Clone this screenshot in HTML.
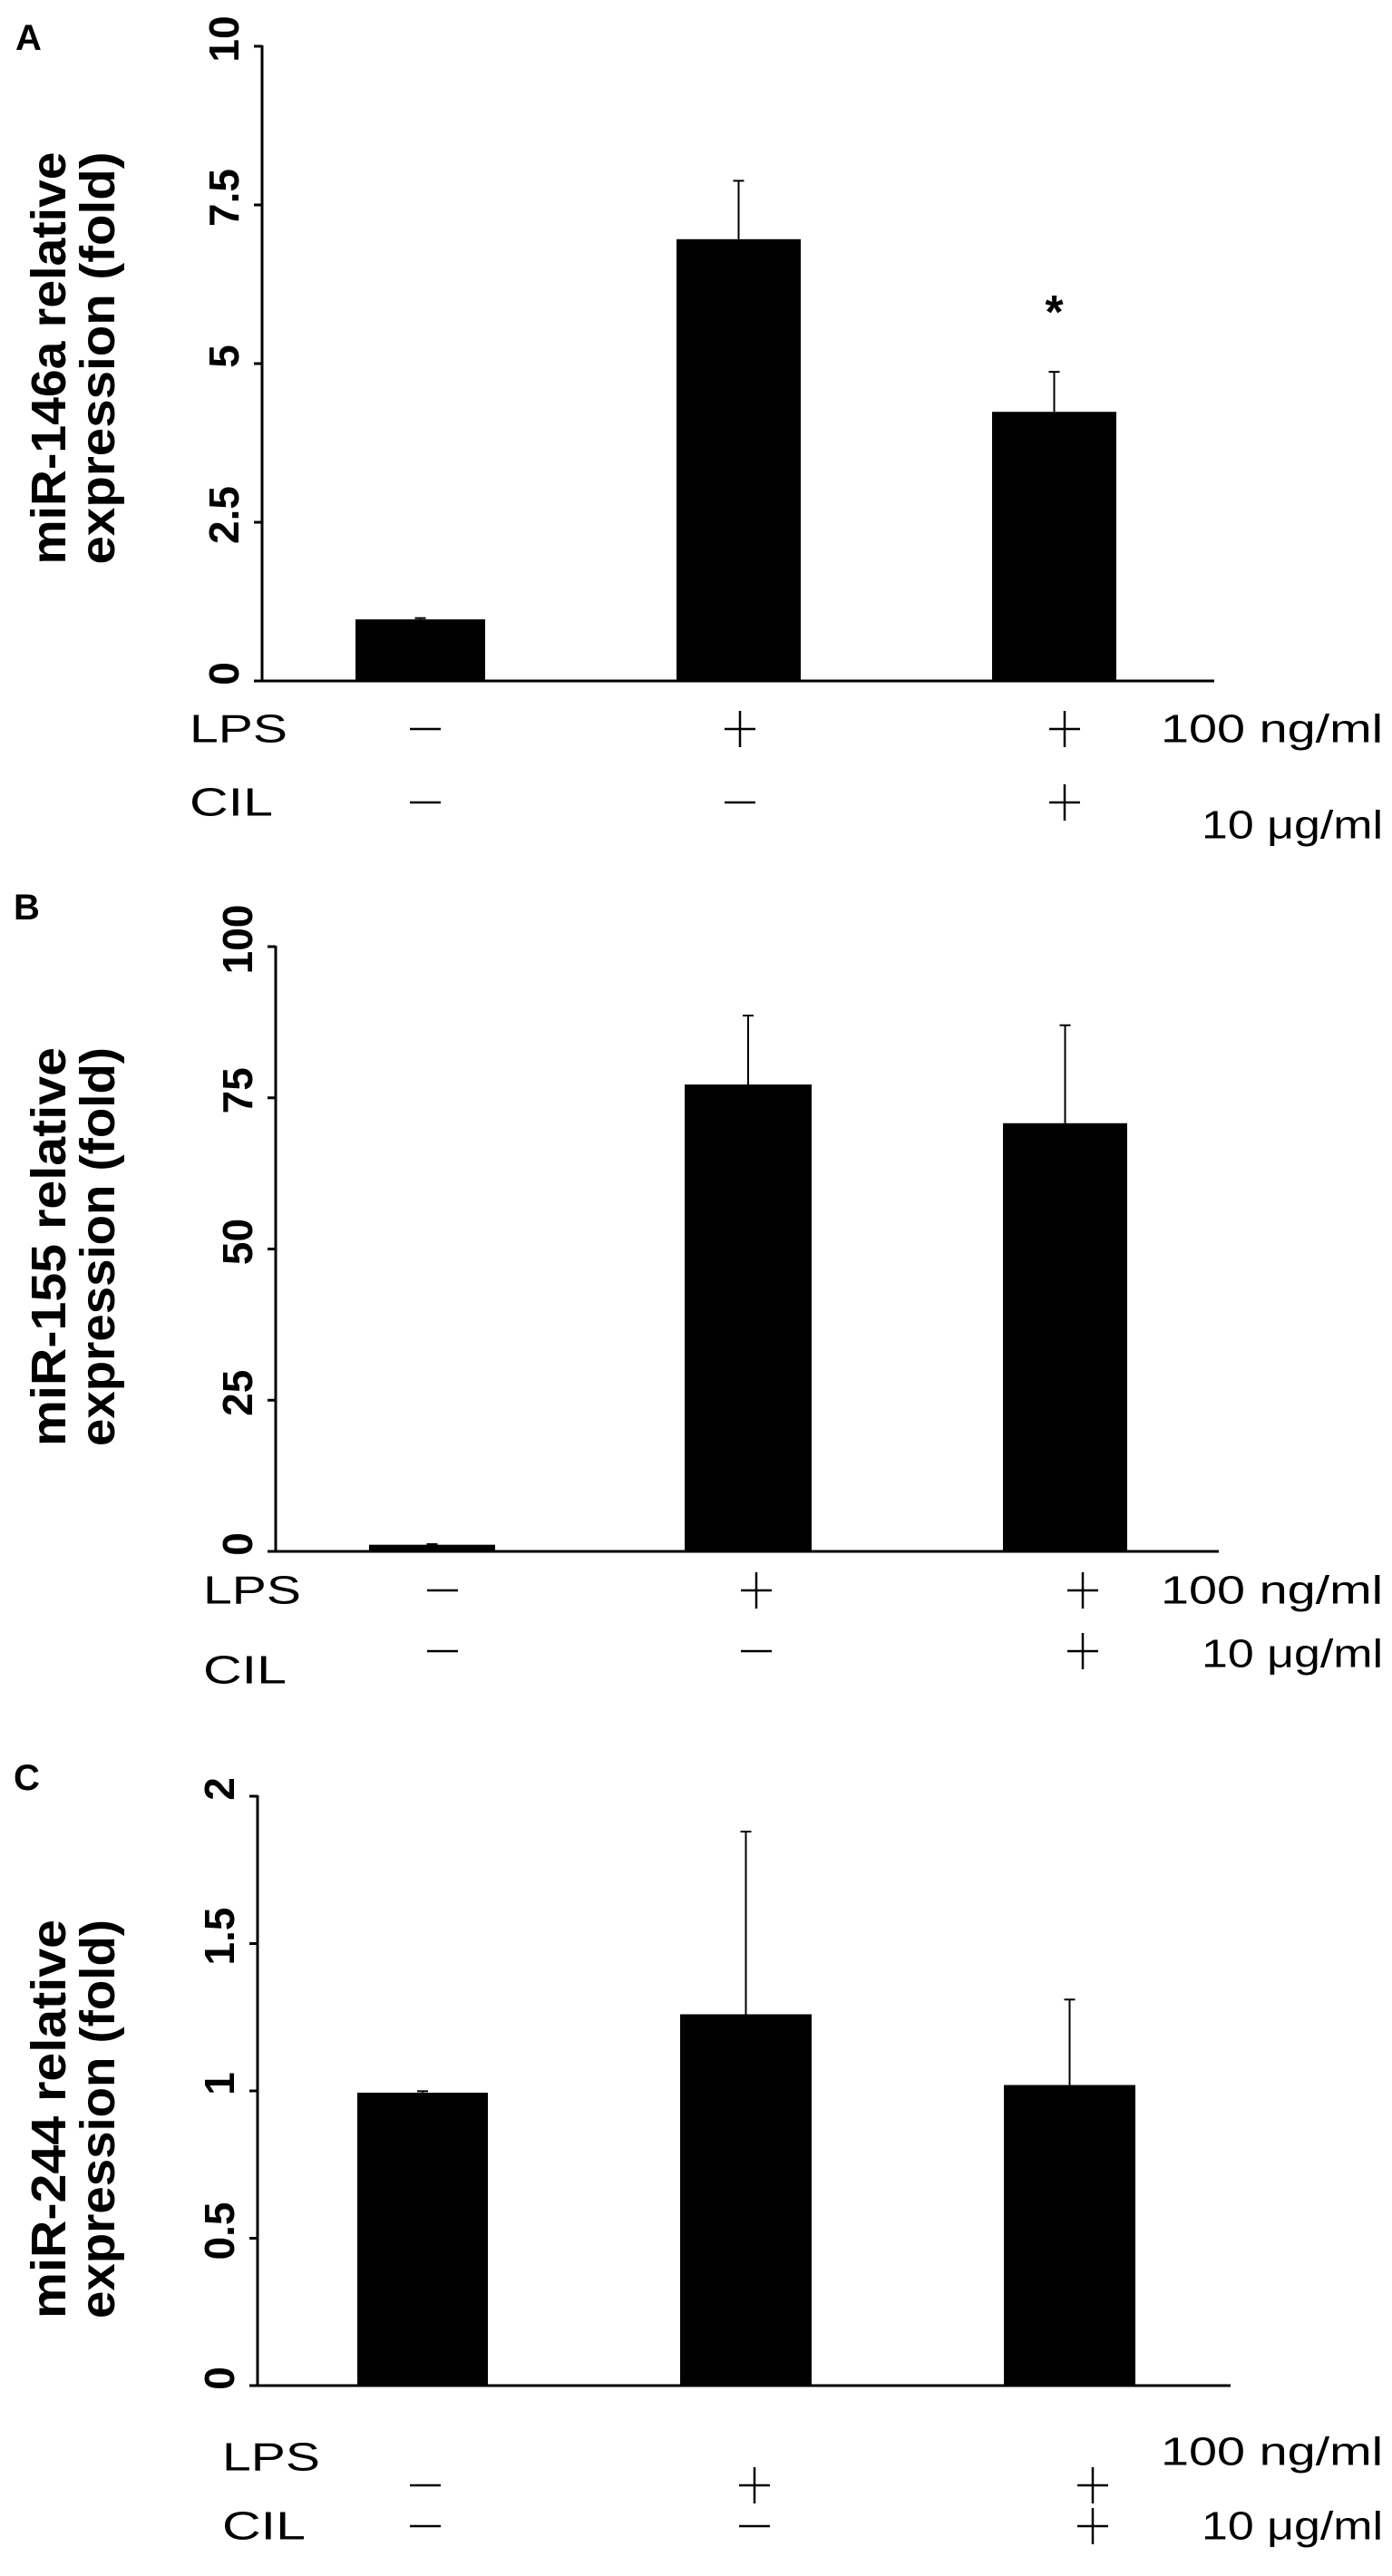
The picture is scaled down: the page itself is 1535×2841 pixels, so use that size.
<!DOCTYPE html>
<html><head><meta charset="utf-8"><style>
html,body{margin:0;padding:0;background:#fff;}
svg{display:block;font-family:"Liberation Sans",Arial,sans-serif;}
</style></head><body>
<svg id="fig" width="1535" height="2841" viewBox="0 0 1535 2841" xmlns="http://www.w3.org/2000/svg"></svg>
<script>
const categories = ["control", "LPS", "LPS+CIL"];
const lpsSigns = ["−", "+", "+"];
const cilSigns = ["−", "−", "+"];
const valuesA = [0.97, 6.96, 4.24];
const errorsA = [0.02, 0.92, 0.63];
const ticksA = [0, 2.5, 5, 7.5, 10];
const tickLabelsA = ["0", "2.5", "5", "7.5", "10"];
const valuesB = [1.1, 77.2, 70.8];
const errorsB = [0.1, 11.4, 16.2];
const ticksB = [0, 25, 50, 75, 100];
const tickLabelsB = ["0", "25", "50", "75", "100"];
const valuesC = [0.994, 1.26, 1.02];
const errorsC = [0.005, 0.62, 0.29];
const ticksC = [0, 0.5, 1, 1.5, 2];
const tickLabelsC = ["0", "0.5", "1", "1.5", "2"];

const NS = "http://www.w3.org/2000/svg";
const svg = document.getElementById("fig");
function mk(tag, attrs, parent, text){
  const e = document.createElementNS(NS, tag);
  for (const k in attrs) e.setAttribute(k, attrs[k]);
  if (text !== undefined) e.textContent = text;
  (parent || svg).appendChild(e);
  return e;
}

const panels = [
  {id:"a", letter:"A", lx:17, ly:55, values:valuesA, errors:errorsA, ticks:ticksA, tl:tickLabelsA, ymax:10,
   axX:289, y0:751, yTop:51, xEnd:1339, bars:[[392,535],[746,883],[1094,1231]],
   t1:"miR-146a relative", t2:"expression (fold)", tcy:395, tlen:455,
   lpsY:804, cilY:885, lpsX:209, unitLpsY:804, unitCilY:910, signX:[469,816,1174], star:true},
  {id:"b", letter:"B", lx:15, ly:1014, values:valuesB, errors:errorsB, ticks:ticksB, tl:tickLabelsB, ymax:100,
   axX:304, y0:1711, yTop:1044, xEnd:1344, bars:[[407,546],[755,895],[1106,1243]],
   t1:"miR-155 relative", t2:"expression (fold)", tcy:1375, tlen:440,
   lpsY:1754, cilY:1842, cilSignY:1821, lpsX:224, unitLpsY:1754, unitCilY:1824, signX:[488,834,1194]},
  {id:"c", letter:"C", lx:15, ly:1974, values:valuesC, errors:errorsC, ticks:ticksC, tl:tickLabelsC, ymax:2,
   axX:284, y0:2631, yTop:1981, xEnd:1357, bars:[[394,538],[750,895],[1107,1252]],
   t1:"miR-244 relative", t2:"expression (fold)", tcy:2337, tlen:440,
   lpsY:2710, lpsSignY:2741, cilY:2786, lpsX:245, unitLpsY:2704, unitCilY:2786, signX:[469,832,1205]}
];

function drawSign(g, s, cx, cy, name){
  const sg = mk("g", {}, g);
  
  
  mk("line", {x1:cx-17, x2:cx+17, y1:cy, y2:cy, stroke:"#000", "stroke-width":2.5}, sg);
  if (s === "+") mk("line", {x1:cx, x2:cx, y1:cy-20, y2:cy+20, stroke:"#000", "stroke-width":2.5}, sg);
}

panels.forEach(p => {
  const g = mk("g", {});
  
  
  const y = v => p.y0 - (v / p.ymax) * (p.y0 - p.yTop);

  const L = mk("text", {x:p.lx, y:p.ly, "font-size":40, "font-weight":"bold"}, g, p.letter);
  
  

  // title
  const tg = mk("g", {transform:`rotate(-90)`}, g);
  
  
  mk("text", {x:-p.tcy, y:54, "text-anchor":"middle", "dominant-baseline":"central", "font-size":54, "font-weight":"bold", textLength:p.tlen, lengthAdjust:"spacingAndGlyphs"}, tg, p.t1);
  mk("text", {x:-p.tcy, y:108, "text-anchor":"middle", "dominant-baseline":"central", "font-size":54, "font-weight":"bold", textLength:p.tlen, lengthAdjust:"spacingAndGlyphs"}, tg, p.t2);

  // axes
  const ax = mk("g", {}, g);
  
  
  mk("line", {x1:p.axX, x2:p.axX, y1:y(p.ymax)-1, y2:p.y0, stroke:"#000", "stroke-width":3}, ax);
  p.ticks.forEach((t, i) => {
    const ty = y(t);
    mk("line", {x1:p.axX-9, x2:p.axX, y1:ty, y2:ty, stroke:"#000", "stroke-width":3}, ax);
    const lbl = mk("text", {transform:`translate(${p.axX-42},${ty-8}) rotate(-90)`, "text-anchor":"middle", "dominant-baseline":"central", "font-size":46, "font-weight":"bold"}, ax, p.tl[i]);
    
    
  });
  const xa = mk("line", {x1:p.axX, x2:p.xEnd, y1:p.y0, y2:p.y0, stroke:"#000", "stroke-width":3}, g);
  
  

  // bars
  p.values.forEach((v, i) => {
    const [x1, x2] = p.bars[i];
    const top = y(v);
    const r = mk("rect", {x:x1, y:top, width:x2-x1, height:p.y0-top, fill:"#000"}, g);
    
    
    const cx = (x1 + x2) / 2;
    const et = y(v + p.errors[i]);
    const eg = mk("g", {}, g);
    
    
    mk("line", {x1:cx, x2:cx, y1:top, y2:et, stroke:"#000", "stroke-width":2}, eg);
    mk("line", {x1:cx-6, x2:cx+6, y1:et, y2:et, stroke:"#000", "stroke-width":2}, eg);
    if (p.star && i === 2) {
      const s = mk("text", {x:cx, y:et - 65, "text-anchor":"middle", "dominant-baseline":"central", "font-size":52, "font-weight":"bold"}, g, "*");
      
      
    }
  });

  // treatment rows
  const l1 = mk("text", {x:p.lpsX, y:p.lpsY, "dominant-baseline":"central", "font-size":44, textLength:108, lengthAdjust:"spacingAndGlyphs"}, g, "LPS");
  
  
  const l2 = mk("text", {x:p.lpsX, y:p.cilY, "dominant-baseline":"central", "font-size":44, textLength:92, lengthAdjust:"spacingAndGlyphs"}, g, "CIL");
  
  
  const u1 = mk("text", {x:1525, y:p.unitLpsY, "text-anchor":"end", "dominant-baseline":"central", "font-size":44, textLength:245, lengthAdjust:"spacingAndGlyphs"}, g, "100 ng/ml");
  
  
  const u2 = mk("text", {x:1525, y:p.unitCilY, "text-anchor":"end", "dominant-baseline":"central", "font-size":44, textLength:200, lengthAdjust:"spacingAndGlyphs"}, g, "10 μg/ml");
  
  
  categories.forEach((c, i) => {
    drawSign(g, lpsSigns[i], p.signX[i], p.lpsSignY || p.lpsY, 'lps-sign-' + c);
    drawSign(g, cilSigns[i], p.signX[i], p.cilSignY || p.cilY, 'cil-sign-' + c);
  });
});
</script>
</body></html>
